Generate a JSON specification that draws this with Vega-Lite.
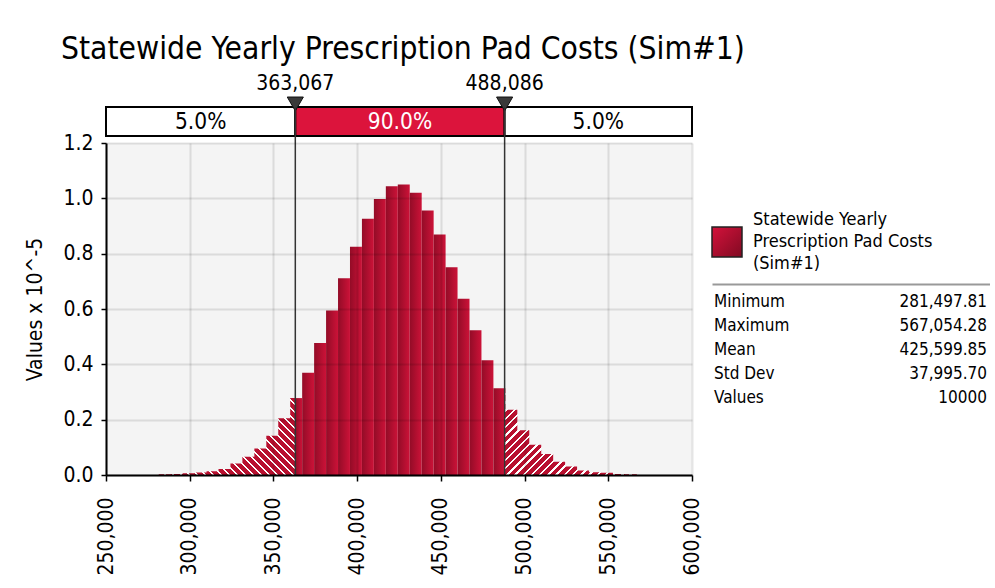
{
  "$schema": "https://vega.github.io/schema/vega-lite/v6.json",
  "background": "white",
  "padding": {"left": 24, "top": 33, "right": 0, "bottom": 0},
  "config": {
    "font": "DejaVu Sans Condensed",
    "view": {"stroke": null},
    "axis": {"labelColor": "black", "titleColor": "black", "domainColor": "black", "tickColor": "black"}
  },
  "title": {"text": "Statewide Yearly Prescription Pad Costs (Sim#1)", "anchor": "start", "fontSize": 31.5, "fontWeight": "normal", "color": "black", "dx": 36, "offset": 8},
  "datasets": {
    "left": [
      {"x": 281497.8, "h": 0.003}, {"x": 288636.7, "h": 0.004}, {"x": 295775.6, "h": 0.006},
      {"x": 302914.5, "h": 0.009}, {"x": 310053.4, "h": 0.014}, {"x": 317192.4, "h": 0.022},
      {"x": 324331.3, "h": 0.042}, {"x": 331470.2, "h": 0.066}, {"x": 338609.1, "h": 0.096},
      {"x": 345748.0, "h": 0.142}, {"x": 352886.9, "h": 0.205}, {"x": 360025.8, "h": 0.278},
      {"x": 363067.0, "h": 0.278}
    ],
    "main": [
      {"x0": 363067.0, "x1": 367164.7, "h": 0.278},
      {"x0": 367164.7, "x1": 374303.6, "h": 0.370},
      {"x0": 374303.6, "x1": 381442.5, "h": 0.477},
      {"x0": 381442.5, "x1": 388581.4, "h": 0.595},
      {"x0": 388581.4, "x1": 395720.3, "h": 0.711},
      {"x0": 395720.3, "x1": 402859.2, "h": 0.825},
      {"x0": 402859.2, "x1": 409998.1, "h": 0.926},
      {"x0": 409998.1, "x1": 417137.0, "h": 0.998},
      {"x0": 417137.0, "x1": 424276.0, "h": 1.044},
      {"x0": 424276.0, "x1": 431414.9, "h": 1.050},
      {"x0": 431414.9, "x1": 438553.8, "h": 1.020},
      {"x0": 438553.8, "x1": 445692.7, "h": 0.956},
      {"x0": 445692.7, "x1": 452831.6, "h": 0.869},
      {"x0": 452831.6, "x1": 459970.5, "h": 0.751},
      {"x0": 459970.5, "x1": 467109.4, "h": 0.637},
      {"x0": 467109.4, "x1": 474248.3, "h": 0.523},
      {"x0": 474248.3, "x1": 481387.2, "h": 0.415},
      {"x0": 481387.2, "x1": 488086.0, "h": 0.314}
    ],
    "right": [
      {"x": 488086.0, "h": 0.314}, {"x": 488526.1, "h": 0.236}, {"x": 495665.0, "h": 0.162},
      {"x": 502803.9, "h": 0.109}, {"x": 509942.8, "h": 0.076}, {"x": 517081.7, "h": 0.048},
      {"x": 524220.6, "h": 0.031}, {"x": 531359.6, "h": 0.016}, {"x": 538498.5, "h": 0.010},
      {"x": 545637.4, "h": 0.008}, {"x": 552776.3, "h": 0.004}, {"x": 559915.2, "h": 0.003},
      {"x": 567054.3, "h": 0.003}
    ],
    "cuts": [{"cut": 363067}, {"cut": 488086}],
    "segs": [
      {"seg": "low", "lo": 250000, "hi": 363067, "pct": "5.0%"},
      {"seg": "mid", "lo": 363067, "hi": 488086, "pct": "90.0%"},
      {"seg": "high", "lo": 488086, "hi": 600000, "pct": "5.0%"}
    ],
    "legendRows": [
      {"line": "Statewide Yearly"},
      {"line": "Prescription Pad Costs"},
      {"line": "(Sim#1)"}
    ],
    "stats": [
      {"stat": "Minimum", "val": "281,497.81"},
      {"stat": "Maximum", "val": "567,054.28"},
      {"stat": "Mean", "val": "425,599.85"},
      {"stat": "Std Dev", "val": "37,995.70"},
      {"stat": "Values", "val": "10000"}
    ]
  },
  "bounds": "flush",
  "spacing": 7,
  "vconcat": [
    {
      "width": 586,
      "height": 29,
      "data": {"name": "segs"},
      "layer": [
        {
          "mark": {"type": "rect", "stroke": "black", "strokeWidth": 2},
          "encoding": {
            "x": {"field": "lo", "type": "quantitative", "scale": {"domain": [250000, 600000], "nice": false, "zero": false}, "axis": null},
            "x2": {"field": "hi"},
            "fill": {"field": "seg", "type": "nominal", "scale": {"domain": ["low", "mid", "high"], "range": ["#ffffff", "#dc143c", "#ffffff"]}, "legend": null}
          }
        },
        {
          "transform": [{"calculate": "(datum.lo + datum.hi) / 2", "as": "center"}],
          "mark": {"type": "text", "fontSize": 22.5, "baseline": "middle"},
          "encoding": {
            "x": {"field": "center", "type": "quantitative"},
            "text": {"field": "pct"},
            "color": {"condition": {"test": "datum.seg === 'mid'", "value": "white"}, "value": "black"}
          }
        },
        {
          "data": {"name": "cuts"},
          "mark": {"type": "point", "shape": "triangle-down", "filled": true, "size": 260, "fill": "#3a3a3a", "stroke": "#111111", "strokeWidth": 1, "opacity": 1, "yOffset": -3},
          "encoding": {
            "x": {"field": "cut", "type": "quantitative"},
            "y": {"datum": 1, "type": "quantitative", "scale": {"domain": [0, 1]}, "axis": null}
          }
        },
        {
          "data": {"name": "cuts"},
          "mark": {"type": "text", "fontSize": 21, "dy": -23, "color": "black", "baseline": "middle"},
          "encoding": {
            "x": {"field": "cut", "type": "quantitative"},
            "y": {"datum": 1, "type": "quantitative"},
            "text": {"field": "cut", "type": "quantitative", "format": ",.0f"}
          }
        }
      ]
    },
    {
      "bounds": "flush",
      "spacing": 20,
      "hconcat": [
        {
          "width": 586,
          "height": 332,
          "view": {"fill": "#f4f4f4", "stroke": null},
          "layer": [
            {
              "data": {"name": "main"},
              "mark": {"type": "rect", "fill": {"gradient": "linear", "x1": 0, "y1": 0, "x2": 1, "y2": 0, "stops": [{"offset": 0, "color": "#930c27"}, {"offset": 1, "color": "#cc1238"}]}},
              "encoding": {
                "x": {"field": "x0", "type": "quantitative", "scale": {"domain": [250000, 600000], "nice": false, "zero": false},
                  "axis": {"values": [250000, 300000, 350000, 400000, 450000, 500000, 550000, 600000], "format": ",d", "labelAngle": -90, "labelFontSize": 21, "labelPadding": 16, "tickSize": 6, "tickWidth": 1.5, "domainWidth": 2, "gridColor": "black", "gridOpacity": 0.1, "gridWidth": 2, "title": null, "zindex": 1, "labelFlush": false, "labelOverlap": false}},
                "x2": {"field": "x1"},
                "y": {"field": "h", "type": "quantitative", "scale": {"domain": [0, 1.2], "nice": false},
                  "axis": {"values": [0, 0.2, 0.4, 0.6, 0.8, 1.0, 1.2], "format": ".1f", "labelFontSize": 21, "labelPadding": 8, "tickSize": 5, "tickWidth": 1.5, "domainWidth": 2, "gridColor": "black", "gridOpacity": 0.1, "gridWidth": 2, "title": "Values x 10^-5", "titleFontSize": 21, "titleFontWeight": "normal", "titlePadding": 17, "zindex": 1, "labelFlush": false, "labelOverlap": false}},
                "y2": {"datum": 0}
              }
            },
            {
              "data": {"name": "left"},
              "mark": {"type": "area", "interpolate": "step-after", "fill": {"gradient": "linear", "x1": 0, "y1": 1, "x2": 1.18678, "y2": 0.33166, "stops": [
                {"offset": 0, "color": "#b8102f"}, {"offset": 0.0263, "color": "#b8102f"}, {"offset": 0.0263, "color": "#ffffff"}, {"offset": 0.0375, "color": "#ffffff"},
                {"offset": 0.0375, "color": "#b8102f"}, {"offset": 0.0638, "color": "#b8102f"}, {"offset": 0.0638, "color": "#ffffff"}, {"offset": 0.075, "color": "#ffffff"},
                {"offset": 0.075, "color": "#b8102f"}, {"offset": 0.1013, "color": "#b8102f"}, {"offset": 0.1013, "color": "#ffffff"}, {"offset": 0.1125, "color": "#ffffff"},
                {"offset": 0.1125, "color": "#b8102f"}, {"offset": 0.1388, "color": "#b8102f"}, {"offset": 0.1388, "color": "#ffffff"}, {"offset": 0.15, "color": "#ffffff"},
                {"offset": 0.15, "color": "#b8102f"}, {"offset": 0.1763, "color": "#b8102f"}, {"offset": 0.1763, "color": "#ffffff"}, {"offset": 0.1875, "color": "#ffffff"},
                {"offset": 0.1875, "color": "#b8102f"}, {"offset": 0.2138, "color": "#b8102f"}, {"offset": 0.2138, "color": "#ffffff"}, {"offset": 0.225, "color": "#ffffff"},
                {"offset": 0.225, "color": "#b8102f"}, {"offset": 0.2513, "color": "#b8102f"}, {"offset": 0.2513, "color": "#ffffff"}, {"offset": 0.2625, "color": "#ffffff"},
                {"offset": 0.2625, "color": "#b8102f"}, {"offset": 0.2888, "color": "#b8102f"}, {"offset": 0.2888, "color": "#ffffff"}, {"offset": 0.3, "color": "#ffffff"},
                {"offset": 0.3, "color": "#b8102f"}, {"offset": 0.3263, "color": "#b8102f"}, {"offset": 0.3263, "color": "#ffffff"}, {"offset": 0.3375, "color": "#ffffff"},
                {"offset": 0.3375, "color": "#b8102f"}, {"offset": 0.3638, "color": "#b8102f"}, {"offset": 0.3638, "color": "#ffffff"}, {"offset": 0.375, "color": "#ffffff"},
                {"offset": 0.375, "color": "#b8102f"}, {"offset": 0.4013, "color": "#b8102f"}, {"offset": 0.4013, "color": "#ffffff"}, {"offset": 0.4125, "color": "#ffffff"},
                {"offset": 0.4125, "color": "#b8102f"}, {"offset": 0.4388, "color": "#b8102f"}, {"offset": 0.4388, "color": "#ffffff"}, {"offset": 0.45, "color": "#ffffff"},
                {"offset": 0.45, "color": "#b8102f"}, {"offset": 0.4763, "color": "#b8102f"}, {"offset": 0.4763, "color": "#ffffff"}, {"offset": 0.4875, "color": "#ffffff"},
                {"offset": 0.4875, "color": "#b8102f"}, {"offset": 0.5138, "color": "#b8102f"}, {"offset": 0.5138, "color": "#ffffff"}, {"offset": 0.525, "color": "#ffffff"},
                {"offset": 0.525, "color": "#b8102f"}, {"offset": 0.5513, "color": "#b8102f"}, {"offset": 0.5513, "color": "#ffffff"}, {"offset": 0.5625, "color": "#ffffff"},
                {"offset": 0.5625, "color": "#b8102f"}, {"offset": 0.5888, "color": "#b8102f"}, {"offset": 0.5888, "color": "#ffffff"}, {"offset": 0.6, "color": "#ffffff"},
                {"offset": 0.6, "color": "#b8102f"}, {"offset": 0.6263, "color": "#b8102f"}, {"offset": 0.6263, "color": "#ffffff"}, {"offset": 0.6375, "color": "#ffffff"},
                {"offset": 0.6375, "color": "#b8102f"}, {"offset": 0.6638, "color": "#b8102f"}, {"offset": 0.6638, "color": "#ffffff"}, {"offset": 0.675, "color": "#ffffff"},
                {"offset": 0.675, "color": "#b8102f"}, {"offset": 0.7013, "color": "#b8102f"}, {"offset": 0.7013, "color": "#ffffff"}, {"offset": 0.7125, "color": "#ffffff"},
                {"offset": 0.7125, "color": "#b8102f"}, {"offset": 0.7388, "color": "#b8102f"}, {"offset": 0.7388, "color": "#ffffff"}, {"offset": 0.75, "color": "#ffffff"},
                {"offset": 0.75, "color": "#b8102f"}, {"offset": 0.7763, "color": "#b8102f"}, {"offset": 0.7763, "color": "#ffffff"}, {"offset": 0.7875, "color": "#ffffff"},
                {"offset": 0.7875, "color": "#b8102f"}, {"offset": 0.8138, "color": "#b8102f"}, {"offset": 0.8138, "color": "#ffffff"}, {"offset": 0.825, "color": "#ffffff"},
                {"offset": 0.825, "color": "#b8102f"}, {"offset": 0.8513, "color": "#b8102f"}, {"offset": 0.8513, "color": "#ffffff"}, {"offset": 0.8625, "color": "#ffffff"},
                {"offset": 0.8625, "color": "#b8102f"}, {"offset": 0.8888, "color": "#b8102f"}, {"offset": 0.8888, "color": "#ffffff"}, {"offset": 0.9, "color": "#ffffff"},
                {"offset": 0.9, "color": "#b8102f"}, {"offset": 0.9263, "color": "#b8102f"}, {"offset": 0.9263, "color": "#ffffff"}, {"offset": 0.9375, "color": "#ffffff"},
                {"offset": 0.9375, "color": "#b8102f"}, {"offset": 0.9638, "color": "#b8102f"}, {"offset": 0.9638, "color": "#ffffff"}, {"offset": 0.975, "color": "#ffffff"},
                {"offset": 0.975, "color": "#b8102f"}, {"offset": 1, "color": "#b8102f"}
              ]}},
              "encoding": {
                "x": {"field": "x", "type": "quantitative"},
                "y": {"field": "h", "type": "quantitative"}
              }
            },
            {
              "data": {"name": "right"},
              "mark": {"type": "area", "interpolate": "step-after", "fill": {"gradient": "linear", "x1": 0, "y1": 0, "x2": 1.15741, "y2": 0.76043, "stops": [
                {"offset": 0, "color": "#b8102f"}, {"offset": 0.0263, "color": "#b8102f"}, {"offset": 0.0263, "color": "#ffffff"}, {"offset": 0.0375, "color": "#ffffff"},
                {"offset": 0.0375, "color": "#b8102f"}, {"offset": 0.0638, "color": "#b8102f"}, {"offset": 0.0638, "color": "#ffffff"}, {"offset": 0.075, "color": "#ffffff"},
                {"offset": 0.075, "color": "#b8102f"}, {"offset": 0.1013, "color": "#b8102f"}, {"offset": 0.1013, "color": "#ffffff"}, {"offset": 0.1125, "color": "#ffffff"},
                {"offset": 0.1125, "color": "#b8102f"}, {"offset": 0.1388, "color": "#b8102f"}, {"offset": 0.1388, "color": "#ffffff"}, {"offset": 0.15, "color": "#ffffff"},
                {"offset": 0.15, "color": "#b8102f"}, {"offset": 0.1763, "color": "#b8102f"}, {"offset": 0.1763, "color": "#ffffff"}, {"offset": 0.1875, "color": "#ffffff"},
                {"offset": 0.1875, "color": "#b8102f"}, {"offset": 0.2138, "color": "#b8102f"}, {"offset": 0.2138, "color": "#ffffff"}, {"offset": 0.225, "color": "#ffffff"},
                {"offset": 0.225, "color": "#b8102f"}, {"offset": 0.2513, "color": "#b8102f"}, {"offset": 0.2513, "color": "#ffffff"}, {"offset": 0.2625, "color": "#ffffff"},
                {"offset": 0.2625, "color": "#b8102f"}, {"offset": 0.2888, "color": "#b8102f"}, {"offset": 0.2888, "color": "#ffffff"}, {"offset": 0.3, "color": "#ffffff"},
                {"offset": 0.3, "color": "#b8102f"}, {"offset": 0.3263, "color": "#b8102f"}, {"offset": 0.3263, "color": "#ffffff"}, {"offset": 0.3375, "color": "#ffffff"},
                {"offset": 0.3375, "color": "#b8102f"}, {"offset": 0.3638, "color": "#b8102f"}, {"offset": 0.3638, "color": "#ffffff"}, {"offset": 0.375, "color": "#ffffff"},
                {"offset": 0.375, "color": "#b8102f"}, {"offset": 0.4013, "color": "#b8102f"}, {"offset": 0.4013, "color": "#ffffff"}, {"offset": 0.4125, "color": "#ffffff"},
                {"offset": 0.4125, "color": "#b8102f"}, {"offset": 0.4388, "color": "#b8102f"}, {"offset": 0.4388, "color": "#ffffff"}, {"offset": 0.45, "color": "#ffffff"},
                {"offset": 0.45, "color": "#b8102f"}, {"offset": 0.4763, "color": "#b8102f"}, {"offset": 0.4763, "color": "#ffffff"}, {"offset": 0.4875, "color": "#ffffff"},
                {"offset": 0.4875, "color": "#b8102f"}, {"offset": 0.5138, "color": "#b8102f"}, {"offset": 0.5138, "color": "#ffffff"}, {"offset": 0.525, "color": "#ffffff"},
                {"offset": 0.525, "color": "#b8102f"}, {"offset": 0.5513, "color": "#b8102f"}, {"offset": 0.5513, "color": "#ffffff"}, {"offset": 0.5625, "color": "#ffffff"},
                {"offset": 0.5625, "color": "#b8102f"}, {"offset": 0.5888, "color": "#b8102f"}, {"offset": 0.5888, "color": "#ffffff"}, {"offset": 0.6, "color": "#ffffff"},
                {"offset": 0.6, "color": "#b8102f"}, {"offset": 0.6263, "color": "#b8102f"}, {"offset": 0.6263, "color": "#ffffff"}, {"offset": 0.6375, "color": "#ffffff"},
                {"offset": 0.6375, "color": "#b8102f"}, {"offset": 0.6638, "color": "#b8102f"}, {"offset": 0.6638, "color": "#ffffff"}, {"offset": 0.675, "color": "#ffffff"},
                {"offset": 0.675, "color": "#b8102f"}, {"offset": 0.7013, "color": "#b8102f"}, {"offset": 0.7013, "color": "#ffffff"}, {"offset": 0.7125, "color": "#ffffff"},
                {"offset": 0.7125, "color": "#b8102f"}, {"offset": 0.7388, "color": "#b8102f"}, {"offset": 0.7388, "color": "#ffffff"}, {"offset": 0.75, "color": "#ffffff"},
                {"offset": 0.75, "color": "#b8102f"}, {"offset": 0.7763, "color": "#b8102f"}, {"offset": 0.7763, "color": "#ffffff"}, {"offset": 0.7875, "color": "#ffffff"},
                {"offset": 0.7875, "color": "#b8102f"}, {"offset": 0.8138, "color": "#b8102f"}, {"offset": 0.8138, "color": "#ffffff"}, {"offset": 0.825, "color": "#ffffff"},
                {"offset": 0.825, "color": "#b8102f"}, {"offset": 0.8513, "color": "#b8102f"}, {"offset": 0.8513, "color": "#ffffff"}, {"offset": 0.8625, "color": "#ffffff"},
                {"offset": 0.8625, "color": "#b8102f"}, {"offset": 0.8888, "color": "#b8102f"}, {"offset": 0.8888, "color": "#ffffff"}, {"offset": 0.9, "color": "#ffffff"},
                {"offset": 0.9, "color": "#b8102f"}, {"offset": 0.9263, "color": "#b8102f"}, {"offset": 0.9263, "color": "#ffffff"}, {"offset": 0.9375, "color": "#ffffff"},
                {"offset": 0.9375, "color": "#b8102f"}, {"offset": 0.9638, "color": "#b8102f"}, {"offset": 0.9638, "color": "#ffffff"}, {"offset": 0.975, "color": "#ffffff"},
                {"offset": 0.975, "color": "#b8102f"}, {"offset": 1, "color": "#b8102f"}
              ]}},
              "encoding": {
                "x": {"field": "x", "type": "quantitative"},
                "y": {"field": "h", "type": "quantitative"}
              }
            },
            {
              "data": {"name": "cuts"},
              "mark": {"type": "rule", "color": "#333333", "strokeWidth": 1.5, "yOffset": -36},
              "encoding": {
                "x": {"field": "cut", "type": "quantitative"},
                "y": {"datum": 1.2, "type": "quantitative"},
                "y2": {"datum": 0}
              }
            }
          ]
        },
        {
          "bounds": "flush",
          "spacing": 9,
          "vconcat": [
            {
              "width": 278,
              "height": 57,
              "data": {"values": [{"blank": ""}]},
              "mark": {"type": "text", "opacity": 0},
              "encoding": {"text": {"field": "blank"}}
            },
            {
              "width": 278,
              "height": 66,
              "data": {"name": "legendRows"},
              "layer": [
                {
                  "mark": {"type": "text", "align": "left", "baseline": "middle", "fontSize": 18, "dx": 41, "color": "black"},
                  "encoding": {
                    "y": {"field": "line", "type": "ordinal", "sort": null, "scale": {"type": "point", "domain": ["Statewide Yearly", "Prescription Pad Costs", "(Sim#1)"], "padding": 0.5}, "axis": null},
                    "x": {"datum": 0, "type": "quantitative", "scale": {"domain": [0, 1]}, "axis": null},
                    "text": {"field": "line"}
                  }
                },
                {
                  "transform": [{"filter": "datum.line === 'Prescription Pad Costs'"}],
                  "mark": {"type": "point", "shape": "square", "size": 900, "filled": true, "opacity": 1, "xOffset": 15, "stroke": "#222222", "strokeWidth": 1.5,
                    "fill": {"gradient": "linear", "x1": 0, "y1": 0, "x2": 1, "y2": 1, "stops": [{"offset": 0, "color": "#d4123b"}, {"offset": 1, "color": "#800a22"}]}},
                  "encoding": {
                    "y": {"field": "line", "type": "ordinal", "sort": null},
                    "x": {"datum": 0, "type": "quantitative"}
                  }
                }
              ]
            },
            {
              "width": 278,
              "height": 132,
              "data": {"name": "stats"},
              "layer": [
                {
                  "mark": {"type": "text", "align": "left", "baseline": "middle", "fontSize": 17, "dx": 2, "color": "black"},
                  "encoding": {
                    "y": {"field": "stat", "type": "ordinal", "sort": null, "scale": {"type": "point", "padding": 0.75}, "axis": null},
                    "x": {"datum": 0, "type": "quantitative", "scale": {"domain": [0, 1]}, "axis": {"orient": "top", "labels": false, "ticks": false, "grid": false, "title": null, "domainColor": "#999999", "domainWidth": 2}},
                    "text": {"field": "stat"}
                  }
                },
                {
                  "mark": {"type": "text", "align": "right", "baseline": "middle", "fontSize": 17, "dx": -3, "color": "black"},
                  "encoding": {
                    "y": {"field": "stat", "type": "ordinal", "sort": null},
                    "x": {"datum": 1, "type": "quantitative"},
                    "text": {"field": "val"}
                  }
                }
              ]
            }
          ]
        }
      ]
    }
  ]
}
